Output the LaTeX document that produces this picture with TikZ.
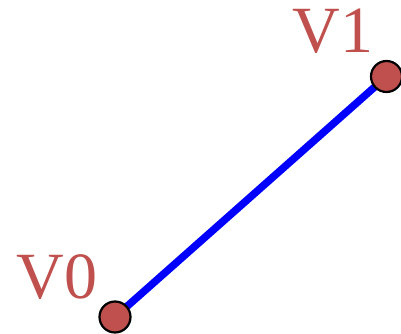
\documentclass[tikz,border=0pt]{standalone}
\usepackage{fontspec}
\setmainfont{Liberation Serif}
\definecolor{vred}{HTML}{C0504D}
\begin{document}
\begin{tikzpicture}[x=1pt,y=1pt,
  vert/.style={circle,fill=vred,draw=black,line width=2.2pt,minimum size=31pt,inner sep=0pt},
  vlabel/.style={text=vred,font=\fontsize{66}{66}\selectfont,inner sep=0pt},
  edge/.style={draw=blue,line width=7.5pt}]
\useasboundingbox (0,0) rectangle (401,334);
\coordinate (p0) at (115,17);
\coordinate (p1) at (386.5,257.5);
\draw[edge] (p0) -- (p1);
\node[vert] (v0) at (p0) {};
\node[vert] (v1) at (p1) {};
\node[vlabel,anchor=base] (l0) at (57,35) {V0};
\node[vlabel,anchor=base] (l1) at (333,281) {V1};
\end{tikzpicture}
\end{document}
